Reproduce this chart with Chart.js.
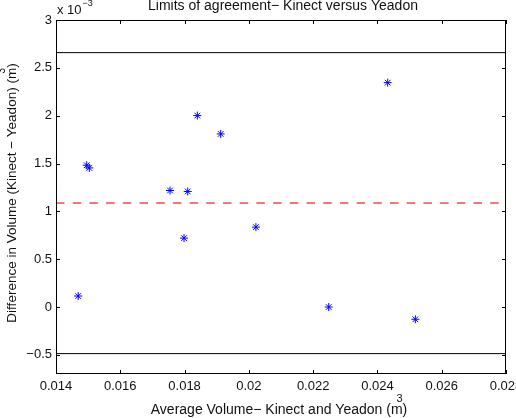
<!DOCTYPE html>
<html><head><meta charset="utf-8">
<script src="https://cdn.jsdelivr.net/npm/chart.js@4/dist/chart.umd.min.js"></script>
<style>html,body{margin:0;padding:0;background:#fff;overflow:hidden}canvas{display:block}</style>
</head><body>
<canvas id="c" width="516" height="418"></canvas>
<script>
// Data (x in m^3, y in m^3)
const avgVolume  = [0.01469, 0.014955, 0.015036, 0.017547, 0.017983, 0.018098, 0.018396, 0.019124, 0.02022, 0.022485, 0.02432, 0.02518];
const diffVolume = [0.000115, 0.001482, 0.001454, 0.001218, 0.000720, 0.001208, 0.002001, 0.001809, 0.000835, 0.0, 0.002345, -0.000128];
const meanDiff   = 0.001086;
const upperLimit = 0.002659;
const lowerLimit = -0.000487;
const xTicks = [0.014, 0.016, 0.018, 0.020, 0.022, 0.024, 0.026, 0.028];
const yTicks = [-0.0005, 0, 0.0005, 0.001, 0.0015, 0.002, 0.0025, 0.003];
const xRange = [0.014, 0.028];
const yRange = [-0.0007, 0.003];
const titleText = 'Limits of agreement\u2212 Kinect versus Yeadon';
const xLabelText = 'Average Volume\u2212 Kinect and Yeadon (m';
const yLabelText = 'Difference in Volume (Kinect \u2212 Yeadon) (m';

const FONT = '"Liberation Sans", Arial, Helvetica, sans-serif';

const points = avgVolume.map((x, i) => ({x, y: diffVolume[i]}));
const hline = v => [{x: xRange[0], y: v}, {x: xRange[1], y: v}];

const decor = {
  id: 'decor',
  afterDraw(chart) {
    const {ctx, chartArea: a, scales: {x, y}} = chart;
    ctx.save();
    // box
    ctx.strokeStyle = '#000';
    ctx.lineWidth = 1;
    ctx.strokeRect(Math.round(a.left) + 0.5, Math.round(a.top) + 0.5, Math.round(a.right - a.left) - 1, Math.round(a.bottom - a.top) - 1);
    // inward ticks
    const tl = 4;
    ctx.beginPath();
    xTicks.forEach(v => {
      const px = Math.round(x.getPixelForValue(v)) + 0.5;
      ctx.moveTo(px, a.bottom); ctx.lineTo(px, a.bottom - tl);
      ctx.moveTo(px, a.top); ctx.lineTo(px, a.top + tl);
    });
    yTicks.forEach(v => {
      const py = Math.round(y.getPixelForValue(v)) + 0.5;
      ctx.moveTo(a.left, py); ctx.lineTo(a.left + tl, py);
      ctx.moveTo(a.right, py); ctx.lineTo(a.right - tl, py);
    });
    ctx.stroke();

    ctx.fillStyle = '#111';
    // title
    ctx.font = '14px ' + FONT;
    ctx.textAlign = 'center';
    ctx.textBaseline = 'alphabetic';
    ctx.fillText(titleText, 283, 10);
    // exponent
    ctx.font = '13px ' + FONT;
    ctx.textAlign = 'left';
    ctx.fillText('x 10', 57, 14);
    const w10 = ctx.measureText('x 10').width;
    ctx.font = '9px ' + FONT;
    ctx.fillText('\u22123', 57 + w10 + 1, 6);

    // x label
    ctx.font = '14px ' + FONT;
    const w1 = ctx.measureText(xLabelText).width;
    const w3 = ctx.measureText(')').width;
    let sx = 279 - (w1 + w3) / 2;
    ctx.fillText(xLabelText, sx, 414);
    ctx.fillText(')', sx + w1, 414);
    ctx.font = '11px ' + FONT;
    ctx.fillText('3', sx + w1 - 6, 402);

    // y label
    ctx.translate(16, 193);
    ctx.rotate(-Math.PI / 2);
    ctx.font = '13.5px ' + FONT;
    const v1 = ctx.measureText(yLabelText).width;
    const v3 = ctx.measureText(')').width;
    const sy = -(v1 + v3) / 2;
    ctx.fillText(yLabelText, sy, 0);
    ctx.fillText(')', sy + v1, 0);
    ctx.font = '10.5px ' + FONT;
    ctx.fillText('3', sy + v1 - 6, -11);
    ctx.restore();
  }
};

new Chart(document.getElementById('c'), {
  type: 'scatter',
  data: {
    datasets: [
      {data: points, pointStyle: 'star', pointRadius: 4, pointHoverRadius: 4,
       borderColor: 'rgb(0,0,255)', backgroundColor: 'rgb(0,0,255)', borderWidth: 1, order: 0},
      {data: hline(upperLimit), showLine: true, pointRadius: 0, borderColor: '#000', borderWidth: 1, order: 1},
      {data: hline(lowerLimit), showLine: true, pointRadius: 0, borderColor: '#000', borderWidth: 1, order: 1},
      {data: hline(meanDiff), showLine: true, pointRadius: 0, borderColor: 'rgb(240,120,120)', borderWidth: 2,
       borderDash: [8.5, 8.2], order: 1}
    ]
  },
  options: {
    responsive: false,
    animation: false,
    devicePixelRatio: 1,
    layout: {padding: {top: 20, right: 10, left: 0, bottom: 0}},
    plugins: {legend: {display: false}, tooltip: {enabled: false}, title: {display: false}},
    scales: {
      x: {
        type: 'linear', min: xRange[0], max: xRange[1],
        grid: {display: false, drawTicks: false}, border: {display: false},
        afterBuildTicks: s => { s.ticks = xTicks.map(v => ({value: v})); },
        afterFit: s => { s.height = 44; s.paddingLeft = 0; s.paddingRight = 0; },
        ticks: {autoSkip: false, maxRotation: 0, padding: 5, color: '#111', font: {family: FONT, size: 13},
                callback: v => String(+v.toFixed(3))}
      },
      y: {
        type: 'linear', min: yRange[0], max: yRange[1],
        grid: {display: false, drawTicks: false}, border: {display: false},
        afterBuildTicks: s => { s.ticks = yTicks.map(v => ({value: v})); },
        afterFit: s => { s.width = 56; s.paddingTop = 0; s.paddingBottom = 0; },
        ticks: {autoSkip: false, padding: 4, color: '#111', font: {family: FONT, size: 13},
                callback: v => String(+(v * 1000).toFixed(1)).replace('-', '\u2212')}
      }
    }
  },
  plugins: [decor]
});
</script>
</body></html>
